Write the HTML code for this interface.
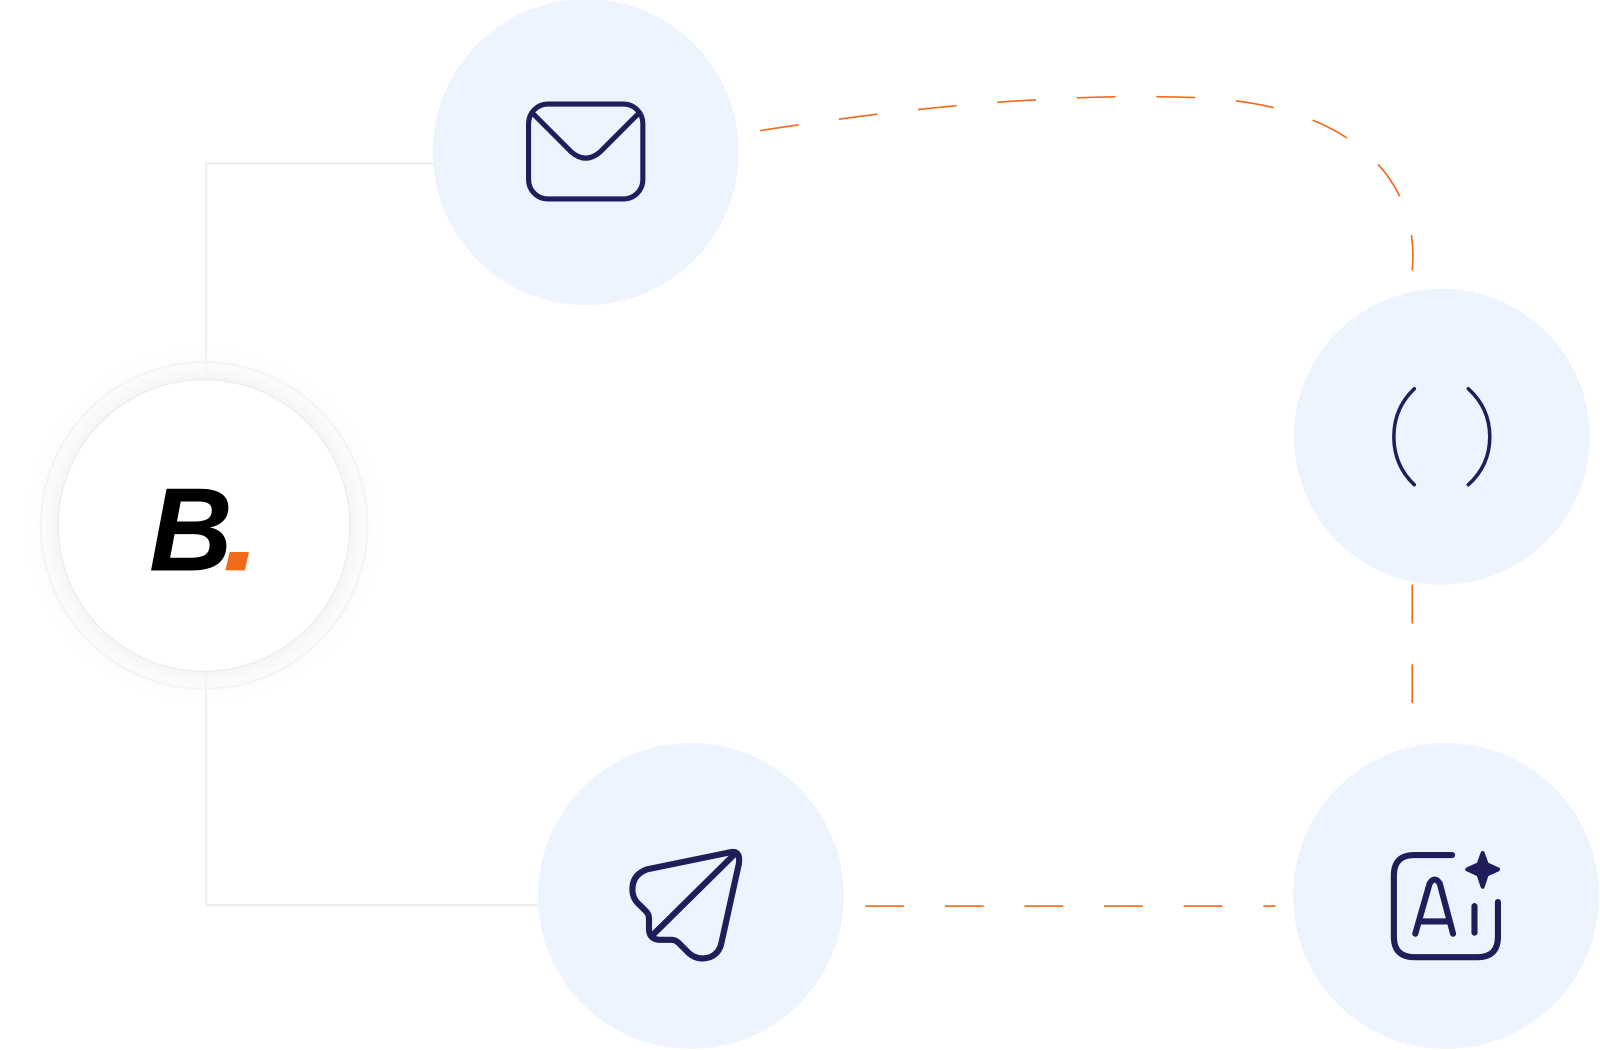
<!DOCTYPE html>
<html><head><meta charset="utf-8"><style>
html,body{margin:0;padding:0;background:#fff;width:1600px;height:1050px;overflow:hidden;position:relative}
</style></head><body>
<svg width="1600" height="1050" style="position:absolute;left:0;top:0">
<defs>
<radialGradient id="glow" cx="0.5" cy="0.5" r="0.5">
<stop offset="0.78" stop-color="#f3f4f5" stop-opacity="1"/>
<stop offset="1" stop-color="#ffffff" stop-opacity="0"/>
</radialGradient>
</defs>
<g transform="scale(1.0204)">
<g fill="none" stroke="#eeeeee" stroke-width="2">
<path d="M425,160 H202 V372"/>
<path d="M202,658 V887 H527"/>
</g>
<circle cx="200" cy="515" r="180" fill="url(#glow)"/>
<circle cx="200" cy="515" r="160" fill="none" stroke="#f4f4f4" stroke-width="2"/>
<circle cx="200" cy="515" r="143" fill="#fff" stroke="#eeeeee" stroke-width="1.5"/>
<g fill="none" stroke="#f26a1b" stroke-width="1.6" stroke-dasharray="38 40">
<path d="M745,128 Q1000,88 1180,96 C1330,104 1392,180 1384,265"/>
<path d="M1384,573 V705"/>
<path d="M848,888 H1250"/>
</g>
<g fill="#eef4fe">
<circle cx="574" cy="149" r="150"/>
<circle cx="1413" cy="428" r="145"/>
<circle cx="1417" cy="878" r="150"/>
<circle cx="677" cy="878" r="150"/>
</g>
<g fill="none" stroke="#211c5a" stroke-width="6" stroke-linecap="round" stroke-linejoin="round">
<rect x="518" y="102" width="112" height="93" rx="19" stroke-width="5"/>
<path d="M523,112 L560,149 Q574,161 588,149 L625,112" stroke-width="5"/>
<path d="M1386,381 Q1366,400 1366,428 Q1366,456 1386,475" stroke-width="3.5"/>
<path d="M1439,381 Q1460,400 1460,428 Q1460,456 1439,475" stroke-width="3.5"/>
<path d="M717,835 L634,852 Q618,858 620,875 Q621,882 627,887 L633,893 Q636,896 636,900 V910 Q636,921 647,921 H658 Q662,921 665,924 L675,934 Q684,942 696,938 Q705,934 707,924 L724,847 Q726,834 717,835 Z"/>
<path d="M640,916 L720,837"/>
<path d="M1423,838 H1386 Q1366,838 1366,858 V918 Q1366,938 1386,938 H1448 Q1468,938 1468,918 V884"/>
<path d="M1387,915 L1401,866 Q1406,858 1411,866 L1424,915 M1392,903 H1420"/>
<path d="M1445,888 V914"/>
</g>
<path d="M1453,836 L1457,847 L1468,852 L1457,857 L1453,869 L1449,857 L1438,852 L1449,847 Z" fill="#211c5a" stroke="#211c5a" stroke-width="4" stroke-linejoin="round"/>
<text x="146" y="559" font-family="Liberation Sans, sans-serif" font-weight="bold" font-style="italic" font-size="116" fill="#000" textLength="82" lengthAdjust="spacingAndGlyphs">B</text>
<polygon points="225,541 244,541 240,559 221,559" fill="#f26a1b"/>
</g>
</svg>
</body></html>
